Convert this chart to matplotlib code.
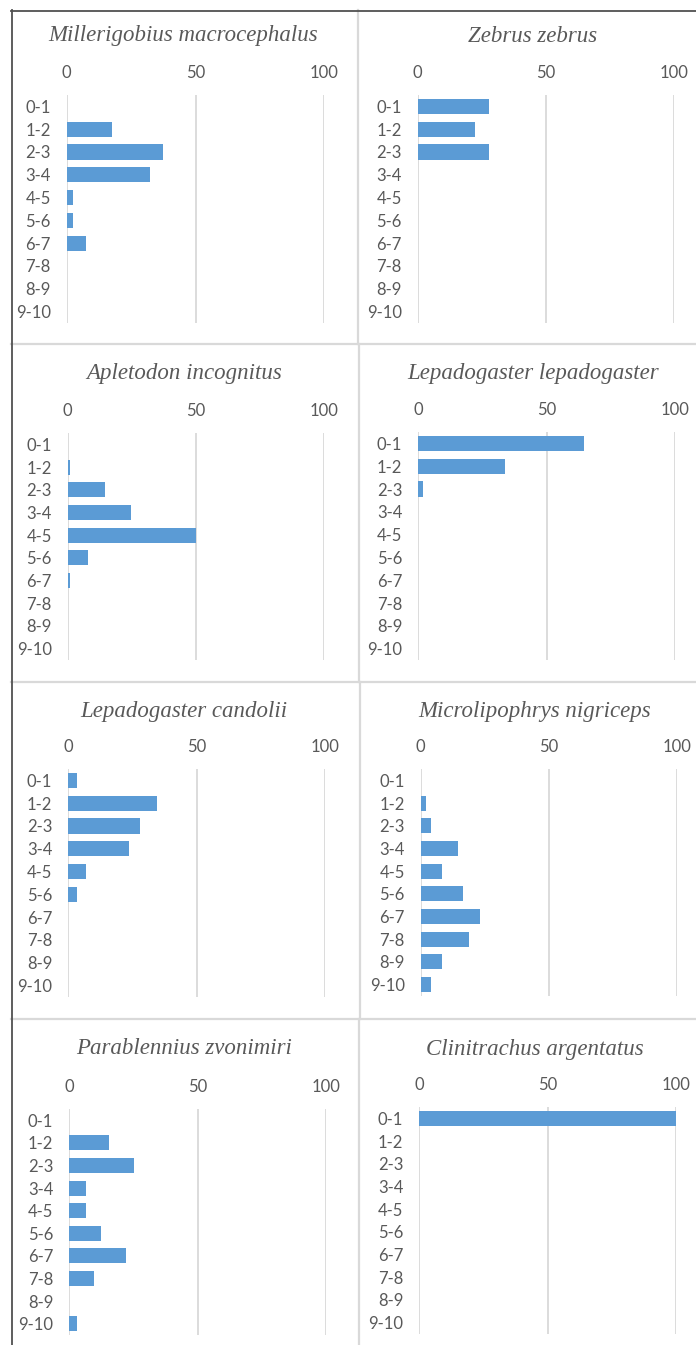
import matplotlib
matplotlib.use("Agg")
import matplotlib.pyplot as plt
from matplotlib.lines import Line2D

W, H = 696, 1345

depth_classes = ["0-1", "1-2", "2-3", "3-4", "4-5", "5-6", "6-7", "7-8", "8-9", "9-10"]

millerigobius = [0, 17.5, 37.5, 32.5, 2.5, 2.5, 7.5, 0, 0, 0]
zebrus = [27.8, 22.2, 27.8, 0, 0, 0, 0, 0, 0, 0]
apletodon = [0, 0.8, 14.4, 24.6, 50.0, 8.0, 0.8, 0, 0, 0]
lep_lepadogaster = [64.5, 33.6, 1.7, 0, 0, 0, 0, 0, 0, 0]
lep_candolii = [3.5, 34.4, 28.1, 23.8, 7.0, 3.5, 0, 0, 0, 0]
microlipophrys = [0, 1.9, 4.0, 14.4, 8.3, 16.5, 23.0, 18.7, 8.3, 4.0]
parablennius = [0, 15.6, 25.2, 6.4, 6.4, 12.3, 21.9, 9.5, 0, 3.1]
clinitrachus = [100, 0, 0, 0, 0, 0, 0, 0, 0, 0]

titles = ["Millerigobius macrocephalus", "Zebrus zebrus",
          "Apletodon incognitus", "Lepadogaster lepadogaster",
          "Lepadogaster candolii", "Microlipophrys nigriceps",
          "Parablennius zvonimiri", "Clinitrachus argentatus"]
series = [millerigobius, zebrus, apletodon, lep_lepadogaster,
          lep_candolii, microlipophrys, parablennius, clinitrachus]
xticks = [0, 50, 100]

# plot areas in pixels: (x at 0, x at 100, top, bottom)
boxes = [(66.7, 324.3, 95, 323), (417.7, 674.3, 95, 323),
         (67.7, 324.3, 433, 660), (418.3, 675, 432, 660),
         (68.3, 325, 769, 997), (420.7, 677.3, 769, 996),
         (69.3, 326, 1109, 1335), (419.3, 676, 1107, 1334)]
title_pos = [(183, 36), (533, 36), (184, 374), (533, 374),
             (184, 712), (535, 712), (184, 1049), (535, 1049)]

grey = "#595959"
bar_color = "#5b9bd5"

fig = plt.figure(figsize=(W / 100, H / 100), dpi=100)
fig.patch.set_facecolor("white")

for i in range(8):
    x0, x1, top, bot = boxes[i]
    ax = fig.add_axes([x0 / W, 1 - bot / H, (x1 - x0) / W, (bot - top) / H])
    ax.barh(range(10), series[i], height=0.66, color=bar_color, zorder=3)
    ax.set_xlim(0, 100)
    ax.set_ylim(9.5, -0.5)
    ax.set_xticks(xticks)
    ax.set_yticks(range(10))
    ax.set_yticklabels(depth_classes)
    ax.xaxis.tick_top()
    ax.tick_params(length=0, labelsize=12, labelcolor=grey)
    ax.tick_params(axis="x", pad=10.3)
    ax.tick_params(axis="y", pad=11.5)
    for lab in ax.get_xticklabels() + ax.get_yticklabels():
        lab.set_family("Lato")
    for s in ax.spines.values():
        s.set_visible(False)
    ax.grid(axis="x", color="#d9d9d9", lw=1.3, zorder=0)
    ax.grid(axis="y", visible=False)
    tx, ty = title_pos[i]
    fig.text(tx / W, 1 - ty / H, titles[i], ha="center", va="center",
             family="Liberation Serif", style="italic", fontsize=16.5, color=grey)

def line(xs, ys, color, lw):
    fig.add_artist(Line2D([x / W for x in xs], [1 - y / H for y in ys],
                          transform=fig.transFigure, color=color, lw=lw))

light = "#d9d9d9"
for y in [344, 681.5, 1019]:
    line([11, W], [y, y], light, 1.6)
line([358, 358], [10, 344], light, 1.6)
line([358.5, 358.5], [344, 681.5], light, 1.6)
line([360, 360], [681.5, 1019], light, 1.6)
line([359, 359], [1019, H], light, 1.6)
line([11.5, 11.5], [10, H], "#505050", 1.3)
line([11, W], [10.5, 10.5], "#505050", 1.3)

fig.savefig("out.png", dpi=100)
